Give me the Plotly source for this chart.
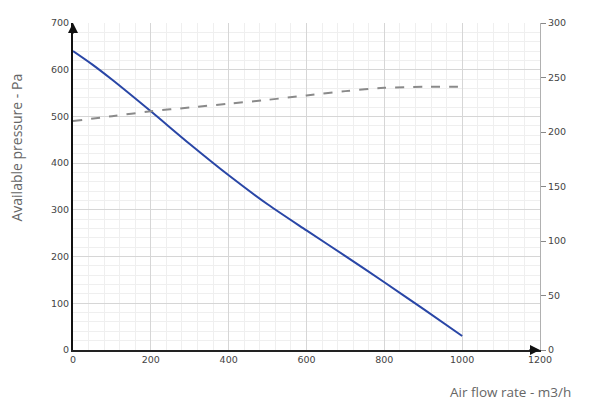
import plotly.graph_objects as go

flow = [0, 50, 100, 200, 300, 400, 500, 600, 700, 800, 900, 1000]
pressure = [640, 611, 579, 511, 441, 374, 312, 256, 201, 145, 88, 30]
grey_flow = [0, 100, 200, 300, 400, 500, 600, 700, 800, 900, 1000]
grey_vals = [210, 214.5, 219, 222.5, 226, 229.5, 233.5, 237.5, 240.5, 241.5, 241.5]

x_ticks = [0, 200, 400, 600, 800, 1000, 1200]
left_ticks = [0, 100, 200, 300, 400, 500, 600, 700]
right_ticks = [0, 50, 100, 150, 200, 250, 300]

fig = go.Figure()
fig.add_trace(go.Scatter(x=flow, y=pressure, mode="lines",
                         line=dict(color="#2946a6", width=2, shape="spline", smoothing=0.8),
                         showlegend=False))
fig.add_trace(go.Scatter(x=grey_flow, y=grey_vals, mode="lines", yaxis="y2",
                         line=dict(color="#8a8a8a", width=2, dash="dash", shape="spline", smoothing=0.8),
                         showlegend=False))

tick_font = dict(family="DejaVu Sans, Lato", size=9.5, color="#444444")

fig.update_layout(
    width=581, height=393,
    margin=dict(l=65, r=49, t=9, b=51),
    paper_bgcolor="white", plot_bgcolor="white",
    xaxis=dict(range=[0, 1200], tickvals=x_ticks, tickfont=tick_font,
               showgrid=True, gridcolor="#d6d6d6", gridwidth=1,
               minor=dict(dtick=40, tick0=0, showgrid=True, gridcolor="#efefef", gridwidth=1),
               showline=True, linecolor="#222222", linewidth=2,
               zeroline=False, ticks="", ticklen=0),
    yaxis=dict(range=[0, 700], tickvals=left_ticks, tickfont=tick_font,
               showgrid=True, gridcolor="#d6d6d6", gridwidth=1,
               minor=dict(dtick=20, tick0=0, showgrid=True, gridcolor="#efefef", gridwidth=1),
               showline=True, linecolor="#111111", linewidth=2,
               zeroline=False, ticks="", ticksuffix="  "),
    yaxis2=dict(range=[0, 300], tickvals=right_ticks, tickfont=tick_font,
                overlaying="y", side="right", showgrid=False, zeroline=False,
                showline=True, linecolor="#b0b0b0", linewidth=1,
                ticks="outside", ticklen=5, tickcolor="#888888",
                tickprefix="  "),
    annotations=[
        dict(text="Available pressure - Pa", xref="paper", yref="paper",
             x=-0.12, y=0.619, textangle=-90, showarrow=False,
             xanchor="center", yanchor="middle",
             font=dict(family="Open Sans, DejaVu Sans", size=14, color="#666666")),
        dict(text="Air flow rate - m3/h", xref="paper", yref="paper",
             x=0.803, y=-0.129, showarrow=False, xanchor="left", yanchor="middle",
             font=dict(family="Open Sans, DejaVu Sans", size=13.5, color="#666666")),
        dict(x=0, y=700, xref="x", yref="y", ax=0, ay=12, showarrow=True,
             arrowhead=2, arrowsize=1, arrowwidth=2, arrowcolor="#111111", text=""),
        dict(x=1200, y=0, xref="x", yref="y", ax=-12, ay=0, showarrow=True,
             arrowhead=2, arrowsize=1, arrowwidth=2, arrowcolor="#111111", text=""),
    ],
)

fig.write_html("out.html")
